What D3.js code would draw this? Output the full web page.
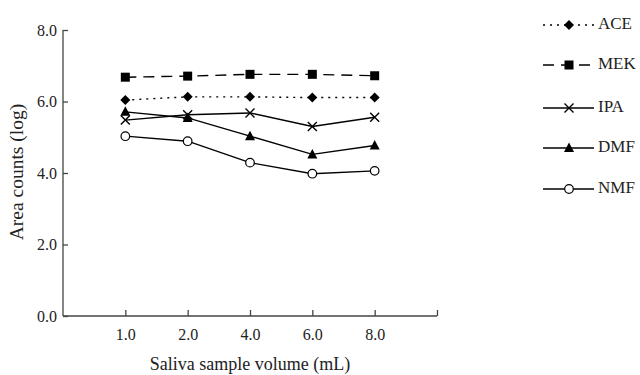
<!DOCTYPE html>
<html><head><meta charset="utf-8">
<script src="https://cdn.jsdelivr.net/npm/d3@7"></script>
<style>body{margin:0;background:#fff}svg{display:block}text{font-family:"Liberation Serif","Times New Roman",serif;fill:#222}</style>
</head><body><svg id="c" width="640" height="375"></svg>
<script>
const categories = ["1.0","2.0","4.0","6.0","8.0"];
const seriesNames = ["ACE","MEK","IPA","DMF","NMF"];
const ACE = [6.04,6.13,6.13,6.11,6.11];
const MEK = [6.68,6.71,6.76,6.76,6.72];
const IPA = [5.48,5.63,5.68,5.30,5.56];
const DMF = [5.71,5.54,5.03,4.52,4.77];
const NMF = [5.03,4.89,4.29,3.98,4.06];
const yTicks = [0,2,4,6,8];

const series = [
  {name:"ACE", values:ACE, dash:"2,5", sym:"diamond"},
  {name:"MEK", values:MEK, dash:"11,7", sym:"square"},
  {name:"IPA", values:IPA, dash:null, sym:"cross"},
  {name:"DMF", values:DMF, dash:null, sym:"triangle"},
  {name:"NMF", values:NMF, dash:null, sym:"circle"}
];

const svg = d3.select("#c");
const x = d3.scaleLinear().domain([0, categories.length+1]).range([63, 437]);
const y = d3.scaleLinear().domain([0, 8]).range([316, 30]);

// axes
const xAxis = d3.axisBottom(x).tickValues(d3.range(1, categories.length+2)).tickSize(-6).tickPadding(13)
  .tickFormat((d,i)=> categories[i] || "");
const gx = svg.append("g").attr("transform","translate(0,316)").call(xAxis);
gx.select(".domain").attr("d", `M${x(0)},0H${x(categories.length+1)}`);
const yAxis = d3.axisLeft(y).tickValues(yTicks).tickSize(-5).tickPadding(6).tickFormat(d3.format(".1f"));
const gy = svg.append("g").attr("transform",`translate(${x(0)},0)`).call(yAxis);
gy.select(".domain").attr("d", `M0,${y(8)}V${y(0)}`);
[gx, gy].forEach(g=>{
  g.attr("font-family", null);
  g.selectAll("path,line").attr("stroke","#444").attr("stroke-width",1.3);
  g.selectAll("text").attr("font-size",16).attr("fill","#222");
});

svg.append("text").attr("x",(x(0)+x(categories.length+1))/2).attr("y",370).attr("text-anchor","middle").attr("font-size",18).text("Saliva sample volume (mL)");
svg.append("text").attr("transform","translate(23,172) rotate(-90)").attr("text-anchor","middle").attr("font-size",19.5).text("Area counts (log)");

function drawSym(g, sym, cx, cy){
  if(sym==="diamond") g.append("path").attr("d",`M${cx},${cy-5}L${cx+5},${cy}L${cx},${cy+5}L${cx-5},${cy}Z`).attr("fill","#000");
  else if(sym==="square") g.append("rect").attr("x",cx-4.5).attr("y",cy-4.5).attr("width",9).attr("height",9).attr("fill","#000");
  else if(sym==="triangle") g.append("path").attr("d",`M${cx},${cy-5.5}L${cx+5},${cy+4}L${cx-5},${cy+4}Z`).attr("fill","#000");
  else if(sym==="circle") g.append("circle").attr("cx",cx).attr("cy",cy).attr("r",4.3).attr("fill","#fff").attr("stroke","#000").attr("stroke-width",1.2);
  else if(sym==="cross") g.append("path").attr("d",`M${cx-4.5},${cy-4.5}L${cx+4.5},${cy+4.5}M${cx-4.5},${cy+4.5}L${cx+4.5},${cy-4.5}`).attr("stroke","#000").attr("stroke-width",1.4);
}

const line = d3.line().x((d,i)=>x(i+1)).y(d=>y(d));
series.forEach(s=>{
  const g = svg.append("g");
  g.append("path").attr("d", line(s.values)).attr("fill","none").attr("stroke","#000").attr("stroke-width",1.4)
    .attr("stroke-dasharray", s.dash);
  s.values.forEach((v,i)=>drawSym(g, s.sym, x(i+1), y(v)));
});

// legend
const legY = [25,65,108,148,189];
series.forEach((s,i)=>{
  const g = svg.append("g");
  const ly = legY[i];
  g.append("line").attr("x1",543).attr("x2",594).attr("y1",ly).attr("y2",ly).attr("stroke","#000").attr("stroke-width",1.4)
    .attr("stroke-dasharray", s.dash);
  drawSym(g, s.sym, 569, ly);
  g.append("text").attr("x",598).attr("y",ly+4).attr("font-size",17).text(seriesNames[i]);
});
</script></body></html>
